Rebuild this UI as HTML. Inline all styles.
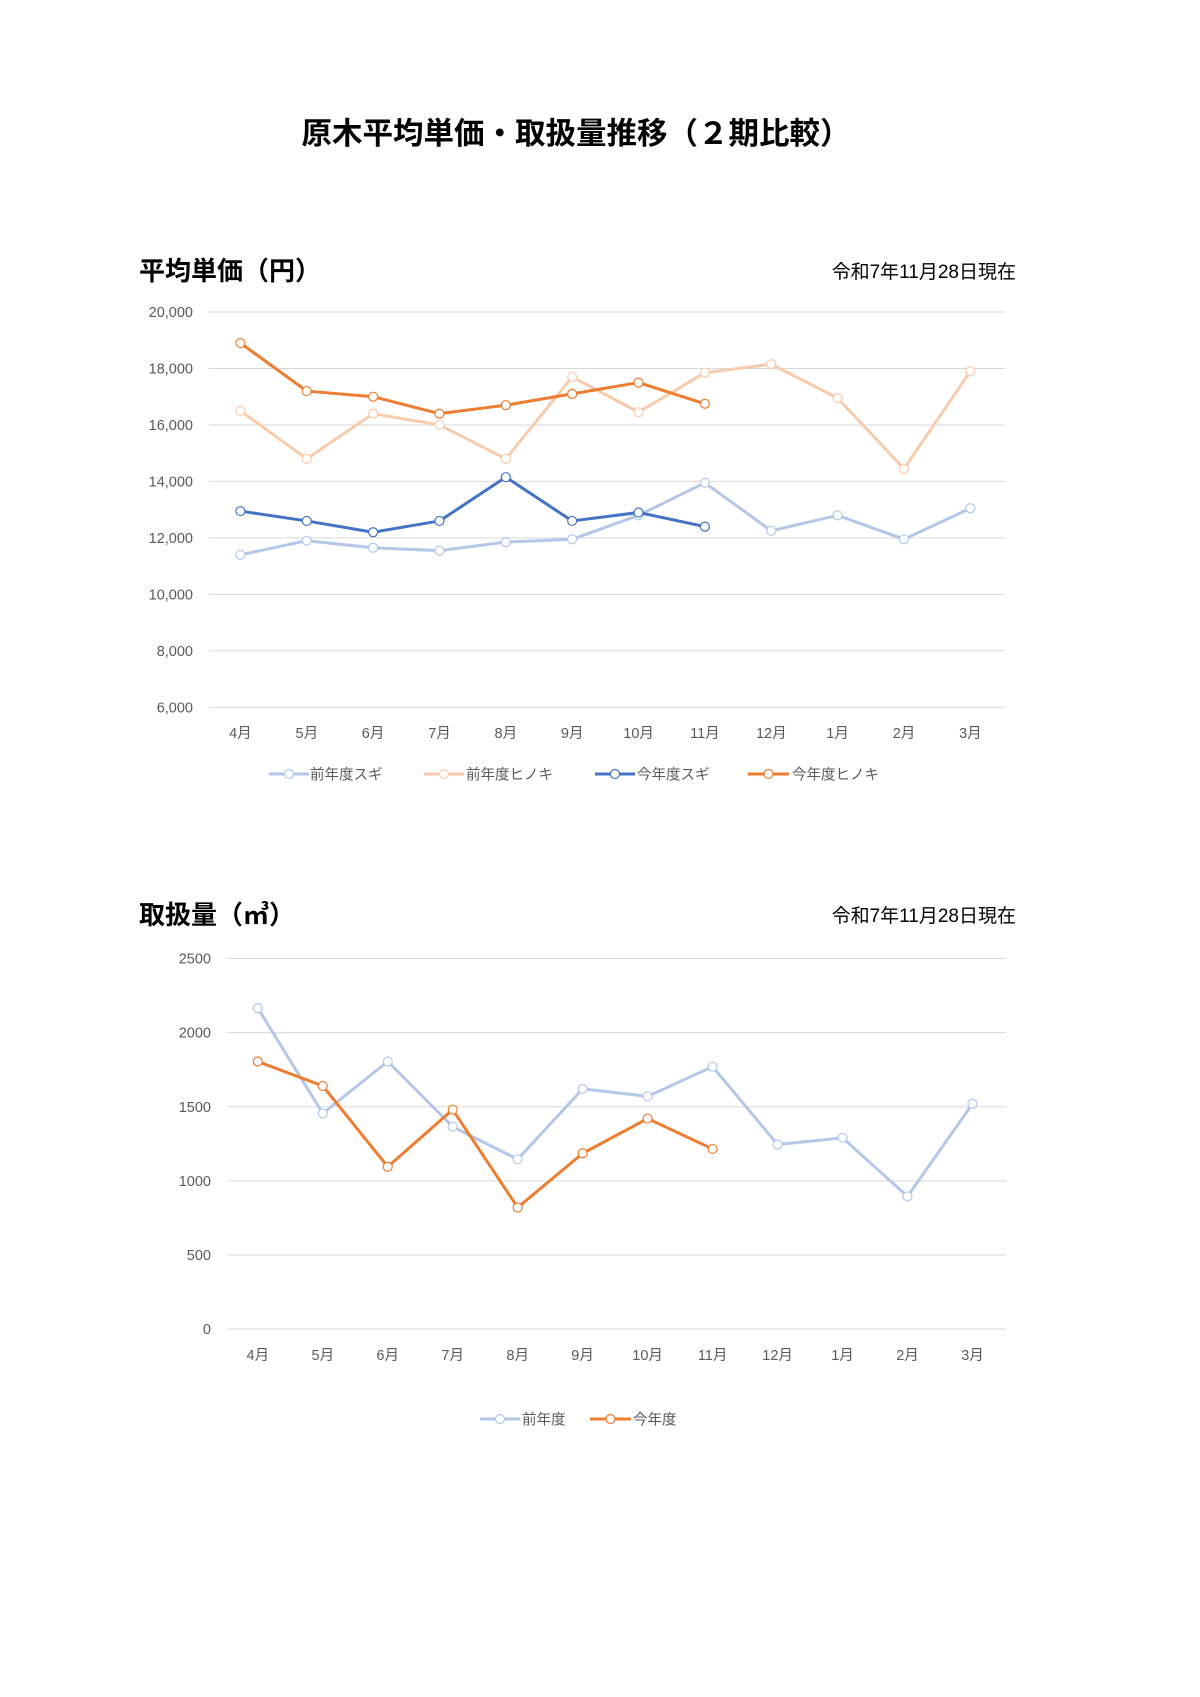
<!DOCTYPE html>
<html><head><meta charset="utf-8"><style>
html,body{margin:0;padding:0;background:#fff}
svg{display:block}
text{font-family:"Liberation Sans","Noto Sans CJK JP",sans-serif}
.t{fill:#595959;font-size:14.5px}
.g{stroke:#d9d9d9;stroke-width:1}
</style></head><body>
<svg id="s" width="1200" height="1697" viewBox="0 0 1200 1697" xmlns="http://www.w3.org/2000/svg">
<rect width="1200" height="1697" fill="#fff"/>
<text x="576" y="144" text-anchor="middle" font-size="30.5" font-weight="bold" fill="#000">原木平均単価・取扱量推移（２期比較）</text>

<text x="139" y="280" font-size="26" font-weight="bold" fill="#000">平均単価（円）</text>
<text x="1016" y="278" text-anchor="end" font-size="19" fill="#000">令和7年11月28日現在</text>
<g class="g">
<line x1="209" x2="1005" y1="312" y2="312"/><line x1="209" x2="1005" y1="368.5" y2="368.5"/>
<line x1="209" x2="1005" y1="425" y2="425"/><line x1="209" x2="1005" y1="481.4" y2="481.4"/>
<line x1="209" x2="1005" y1="537.9" y2="537.9"/><line x1="209" x2="1005" y1="594.4" y2="594.4"/>
<line x1="209" x2="1005" y1="650.8" y2="650.8"/><line x1="209" x2="1005" y1="707.3" y2="707.3"/>
</g>
<g class="t" text-anchor="end">
<text x="193" y="317">20,000</text><text x="193" y="373.5">18,000</text><text x="193" y="430">16,000</text>
<text x="193" y="486.4">14,000</text><text x="193" y="543">12,000</text><text x="193" y="599.4">10,000</text>
<text x="193" y="656">8,000</text><text x="193" y="712.3">6,000</text>
</g>
<g class="t" text-anchor="middle">
<text x="240.4" y="738">4月</text><text x="306.8" y="738">5月</text><text x="373.1" y="738">6月</text>
<text x="439.5" y="738">7月</text><text x="505.8" y="738">8月</text><text x="572.2" y="738">9月</text>
<text x="638.6" y="738">10月</text><text x="704.9" y="738">11月</text><text x="771.3" y="738">12月</text>
<text x="837.6" y="738">1月</text><text x="904" y="738">2月</text><text x="970.4" y="738">3月</text>
</g>
<g class="t" font-size="15.5">
<text x="310" y="779.5">前年度スギ</text><text x="466" y="779.5">前年度ヒノキ</text>
<text x="637" y="779.5">今年度スギ</text><text x="792" y="779.5">今年度ヒノキ</text>
</g>

<text x="139" y="924" font-size="26" font-weight="bold" fill="#000">取扱量（㎥）</text>
<text x="1016" y="922" text-anchor="end" font-size="19" fill="#000">令和7年11月28日現在</text>
<g class="g">
<line x1="227" x2="1006" y1="958.5" y2="958.5"/><line x1="227" x2="1006" y1="1032.6" y2="1032.6"/>
<line x1="227" x2="1006" y1="1106.8" y2="1106.8"/><line x1="227" x2="1006" y1="1180.9" y2="1180.9"/>
<line x1="227" x2="1006" y1="1255" y2="1255"/><line x1="227" x2="1006" y1="1329" y2="1329"/>
</g>
<g class="t" text-anchor="end">
<text x="211" y="963.5">2500</text><text x="211" y="1037.6">2000</text><text x="211" y="1111.8">1500</text>
<text x="211" y="1186">1000</text><text x="211" y="1260">500</text><text x="211" y="1334">0</text>
</g>
<g class="t" text-anchor="middle">
<text x="257.8" y="1360">4月</text><text x="322.8" y="1360">5月</text><text x="387.7" y="1360">6月</text>
<text x="452.7" y="1360">7月</text><text x="517.7" y="1360">8月</text><text x="582.6" y="1360">9月</text>
<text x="647.6" y="1360">10月</text><text x="712.6" y="1360">11月</text><text x="777.6" y="1360">12月</text>
<text x="842.5" y="1360">1月</text><text x="907.5" y="1360">2月</text><text x="972.5" y="1360">3月</text>
</g>
<g class="t" font-size="15.5">
<text x="522" y="1424.5">前年度</text><text x="633" y="1424.5">今年度</text>
</g>
<g id="d"></g>
</svg>
<script>
var NS="http://www.w3.org/2000/svg",d=document.getElementById("d");
function el(t,a){var e=document.createElementNS(NS,t);for(var k in a)e.setAttribute(k,a[k]);d.appendChild(e);return e;}
function series(xs,ys,c){var p=xs.map(function(x,i){return x+","+ys[i]}).join(" ");
el("polyline",{points:p,fill:"none",stroke:c,"stroke-width":3,"stroke-linejoin":"round"});
xs.forEach(function(x,i){el("circle",{cx:x,cy:ys[i],r:4.5,fill:"#fff",stroke:c,"stroke-width":1.2});});}
function leg(x1,x2,y,c){el("line",{x1:x1,x2:x2,y1:y,y2:y,stroke:c,"stroke-width":3});el("circle",{cx:(x1+x2)/2,cy:y,r:4.5,fill:"#fff",stroke:c,"stroke-width":1.2});}
var x1=[],x2=[];for(var i=0;i<12;i++){x1.push(240.4+66.36*i);x2.push(257.8+64.97*i);}
function y1(v){return 312+(20000-v)*0.028236;}function y2(v){return 1329-v*0.1482;}
var C={ps:"#b4c7e7",ph:"#f8cbad",ns:"#4472c4",nh:"#ed7d31"};
series(x1,[11400,11900,11650,11550,11850,11950,12800,13950,12250,12800,11950,13050].map(y1),C.ps);
series(x1,[16500,14800,16400,16000,14800,17700,16450,17850,18150,16950,14450,17900].map(y1),C.ph);
series(x1.slice(0,8),[12950,12600,12200,12600,14150,12600,12900,12400].map(y1),C.ns);
series(x1.slice(0,8),[18900,17200,17000,16400,16700,17100,17500,16750].map(y1),C.nh);
series(x2,[2165,1455,1805,1365,1145,1620,1570,1770,1245,1290,895,1520].map(y2),C.ps);
series(x2.slice(0,8),[1805,1640,1095,1480,820,1185,1420,1215].map(y2),C.nh);
leg(269,309,774,C.ps);leg(424,464,774,C.ph);leg(595,635,774,C.ns);leg(748,789,774,C.nh);
leg(480,520,1419,C.ps);leg(590,631,1419,C.nh);
</script>
</body></html>
